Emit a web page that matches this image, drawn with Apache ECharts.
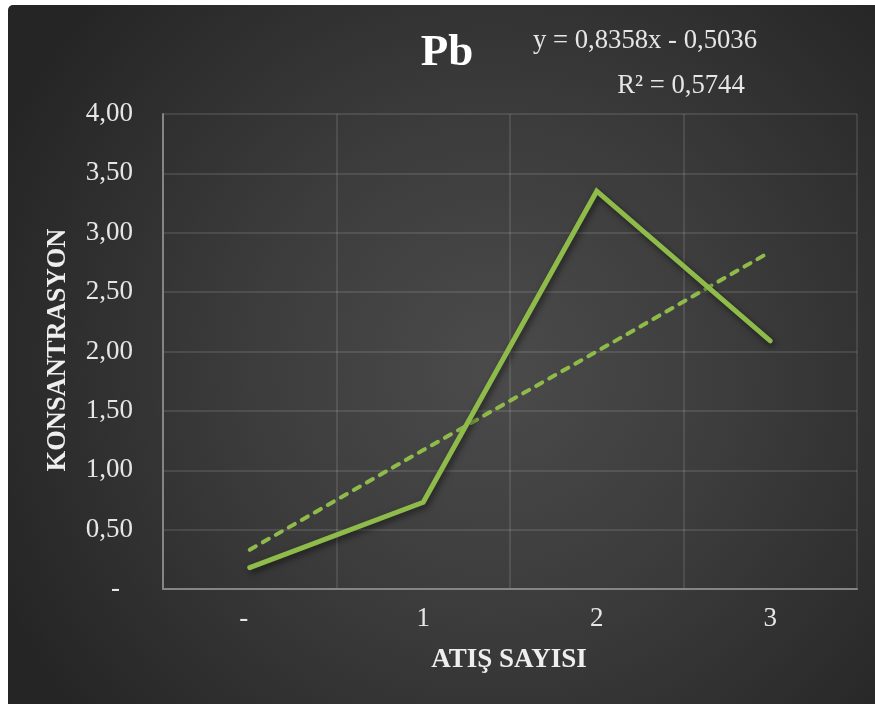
<!DOCTYPE html>
<html>
<head>
<meta charset="utf-8">
<title>Pb</title>
<script src="https://cdn.jsdelivr.net/npm/echarts@6/dist/echarts.min.js"></script>
<style>
  html, body { margin: 0; padding: 0; background: #ffffff; }
  #chart { width: 875px; height: 704px; }
</style>
</head>
<body>
<div id="chart"></div>
<script>
// Shot counts on the x axis and measured Pb concentration
const categories = ['-', '1', '2', '3'];
const concentration = [0.18, 0.73, 3.35, 2.09];
// Linear trend y = 0,8358x - 0,5036 evaluated at each shot
const trend = [0.33, 1.17, 2.00, 2.84];
const yTickLabels = ['-', '0,50', '1,00', '1,50', '2,00', '2,50', '3,00', '3,50', '4,00'];

const serif = '"Liberation Serif", "Times New Roman", serif';
const green = '#8fbb4a';

const chart = echarts.init(document.getElementById('chart'), null, { renderer: 'canvas' });

chart.setOption({
  backgroundColor: 'transparent',
  animation: false,
  grid: { left: 163, right: 18, top: 114, bottom: 115, containLabel: false },
  graphic: [
    {
      type: 'rect',
      z: -10,
      silent: true,
      shape: { x: 8, y: 5, width: 867, height: 699, r: [5, 0, 0, 0] },
      style: {
        fill: new echarts.graphic.RadialGradient(0.56, 0.52, 0.78, [
          { offset: 0, color: '#4b4b4b' },
          { offset: 0.45, color: '#3c3c3c' },
          { offset: 1, color: '#252525' }
        ])
      }
    },
    {
      type: 'text', x: 447, y: 53, z: 10,
      style: { text: 'Pb', fill: '#ffffff', font: 'bold 45px ' + serif, align: 'center', verticalAlign: 'middle' }
    },
    {
      type: 'text', x: 645, y: 41, z: 10,
      style: { text: 'y = 0,8358x - 0,5036', fill: '#e6e6e6', font: '26.7px ' + serif, align: 'center', verticalAlign: 'middle' }
    },
    {
      type: 'text', x: 681, y: 86, z: 10,
      style: { text: 'R² = 0,5744', fill: '#e6e6e6', font: '26.7px ' + serif, align: 'center', verticalAlign: 'middle' }
    },
    {
      type: 'text', x: 58, y: 350, z: 10, rotation: Math.PI / 2,
      style: { text: 'KONSANTRASYON', fill: '#eeeeee', font: 'bold 26.5px ' + serif, align: 'center', verticalAlign: 'middle' }
    },
    {
      type: 'text', x: 509, y: 660, z: 10,
      style: { text: 'ATIŞ SAYISI', fill: '#eeeeee', font: 'bold 27px ' + serif, align: 'center', verticalAlign: 'middle' }
    }
  ],
  xAxis: {
    type: 'category',
    data: categories,
    boundaryGap: true,
    axisLine: { show: true, lineStyle: { color: '#858585', width: 2 } },
    axisTick: { show: false },
    splitLine: { show: true, lineStyle: { color: 'rgba(255,255,255,0.14)', width: 1.5 } },
    axisLabel: {
      margin: 16,
      color: '#e6e6e6',
      fontFamily: serif,
      fontSize: 27,
      formatter: function (v) { return v === '-' ? '{dash|-}' : v; },
      rich: {
        dash: { color: '#e6e6e6', fontFamily: serif, fontSize: 27, padding: [0, 12, 0, 0] }
      }
    }
  },
  yAxis: {
    type: 'value',
    min: 0,
    max: 4,
    interval: 0.5,
    axisLine: { show: true, lineStyle: { color: '#858585', width: 2 } },
    axisTick: { show: false },
    splitLine: { show: true, lineStyle: { color: 'rgba(255,255,255,0.14)', width: 1.5 } },
    axisLabel: {
      margin: 30,
      color: '#e6e6e6',
      fontFamily: serif,
      fontSize: 27,
      formatter: function (v) {
        const i = Math.round(v / 0.5);
        return i === 0 ? '{dash|' + yTickLabels[0] + '}' : yTickLabels[i];
      },
      rich: {
        dash: { color: '#e6e6e6', fontFamily: serif, fontSize: 27, padding: [0, 13, 0, 0] }
      }
    }
  },
  series: [
    {
      name: 'Pb',
      type: 'line',
      data: concentration,
      symbol: 'none',
      z: 3,
      lineStyle: {
        color: green,
        width: 5,
        cap: 'round',
        join: 'miter',
        shadowColor: 'rgba(0,0,0,0.55)',
        shadowBlur: 6,
        shadowOffsetX: 2,
        shadowOffsetY: 3
      }
    },
    {
      name: 'Doğrusal (Pb)',
      type: 'line',
      data: trend,
      symbol: 'none',
      z: 2,
      lineStyle: {
        color: green,
        width: 4,
        type: [7, 8],
        cap: 'round'
      }
    }
  ]
});
</script>
</body>
</html>
